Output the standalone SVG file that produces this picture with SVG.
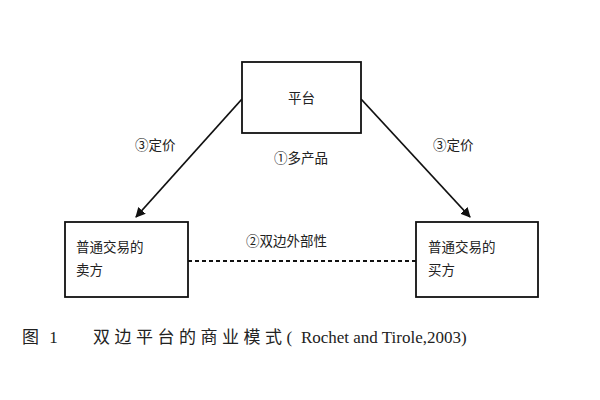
<svg xmlns="http://www.w3.org/2000/svg" width="600" height="400" viewBox="0 0 600 400">
<style>
.box{fill:#fff;stroke:#111;stroke-width:1.8}
.t{font-family:"Liberation Serif","Noto Sans CJK SC",serif;font-size:13.5px;fill:#222}
.c{stroke:#111;stroke-width:1.8;fill:none}
</style>
<defs><marker id="ah" markerWidth="10" markerHeight="10" refX="9" refY="5" orient="auto" markerUnits="userSpaceOnUse"><path d="M0,0 L10,5 L0,10 z" fill="#111"/></marker></defs>
<rect width="600" height="400" fill="#fff"/>
<g id="connectors">
<line class="c" x1="242" y1="99" x2="136" y2="217" marker-end="url(#ah)"/>
<line class="c" x1="361" y1="99" x2="470" y2="217" marker-end="url(#ah)"/>
<line class="c" x1="188" y1="261" x2="416" y2="261" stroke-dasharray="4,3"/>
<text class="t" x="135" y="150">③定价</text>
<text class="t" x="433" y="150">③定价</text>
<text class="t" x="274" y="163">①多产品</text>
<text class="t" x="246" y="246">②双边外部性</text>
</g>
<g id="platform"><rect class="box" x="242" y="62" width="119" height="71"/><text class="t" x="288" y="103">平台</text></g>
<g id="seller"><rect class="box" x="65" y="222" width="123" height="75"/><text class="t" x="76" y="252">普通交易的</text><text class="t" x="76" y="275">卖方</text></g>
<g id="buyer"><rect class="box" x="416" y="222" width="122" height="75"/><text class="t" x="428" y="252">普通交易的</text><text class="t" x="428" y="275">买方</text></g>
<text class="t" y="343" style="font-size:17px"><tspan x="22" letter-spacing="3">图 1</tspan><tspan x="93" letter-spacing="4.5">双边平台的商业模式(</tspan><tspan letter-spacing="0"> Rochet and Tirole,2003)</tspan></text>
</svg>
